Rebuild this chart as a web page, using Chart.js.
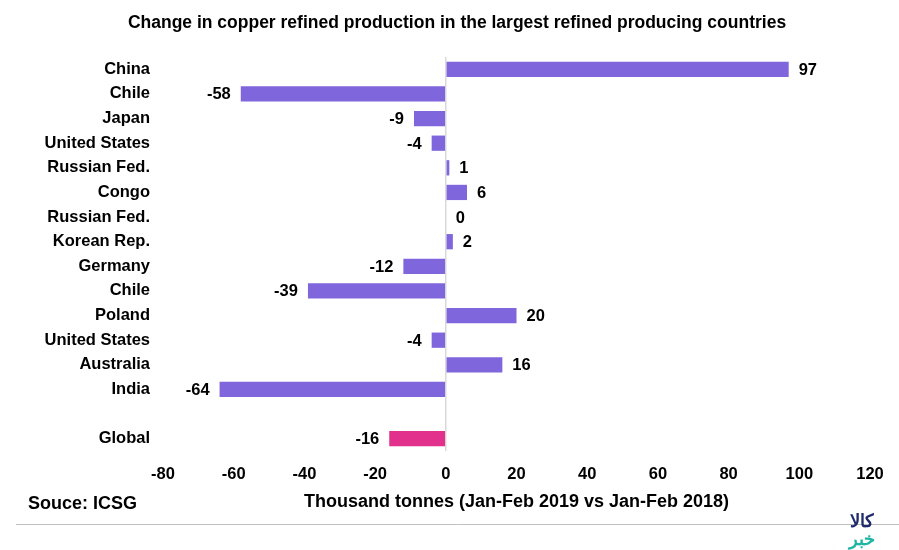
<!DOCTYPE html>
<html>
<head>
<meta charset="utf-8">
<script src="https://cdn.jsdelivr.net/npm/chart.js@4"></script>
<style>
  body { margin: 0; background: #fff; }
  #wrap { width: 899px; height: 550px; }
</style>
</head>
<body>
<div id="wrap"><canvas id="myChart"></canvas></div>
<script>
// categories (the empty one is the gap above Global)
let countries = ['China', 'Chile', 'Japan', 'United States', 'Russian Fed.', 'Congo', 'Russian Fed.',
    'Korean Rep.', 'Germany', 'Chile', 'Poland', 'United States', 'Australia', 'India', '', 'Global'];

// change in thousand tonnes
let changes = [97, -58, -9, -4, 1, 6, 0, 2, -12, -39, 20, -4, 16, -64, null, -16];

// x axis ticks
let xMin = -80;
let xMax = 120;
let xStep = 20;

let barColor = '#8066dc';
let globalColor = '#e2308d';

const fontFamily = '"Liberation Sans", Arial, sans-serif';

// draws value labels, chart title, source note, bottom rule
const extras = {
    id: 'extras',
    afterDatasetsDraw(chart) {
        const ctx = chart.ctx;
        const meta = chart.getDatasetMeta(0);
        ctx.save();
        ctx.fillStyle = '#000';
        ctx.font = 'bold 16.5px ' + fontFamily;
        ctx.textBaseline = 'middle';
        meta.data.forEach((bar, i) => {
            let v = changes[i];
            if (v === null) return;
            if (v < 0) {
                ctx.textAlign = 'right';
                ctx.fillText(String(v), bar.x - 10, bar.y + 1);
            } else {
                ctx.textAlign = 'left';
                ctx.fillText(String(v), bar.x + 10, bar.y + 1);
            }
        });

        // title
        ctx.textAlign = 'center';
        ctx.font = 'bold 17.5px ' + fontFamily;
        ctx.fillText('Change in copper refined production in the largest refined producing countries', 457, 23);

        // source
        ctx.textAlign = 'left';
        ctx.font = 'bold 18px ' + fontFamily;
        ctx.fillText('Souce: ICSG', 28, 504);

        // bottom rule
        ctx.strokeStyle = '#bfbfbf';
        ctx.lineWidth = 1;
        ctx.beginPath();
        ctx.moveTo(16, 524.5);
        ctx.lineTo(899, 524.5);
        ctx.stroke();

        // watermark
        ctx.textAlign = 'center';
        ctx.font = 'bold 18px "Noto Sans", sans-serif';
        ctx.fillStyle = '#1d2a6b';
        ctx.fillText('کالا', 862, 522);
        ctx.fillStyle = '#1fb5a5';
        ctx.fillText('خبر', 862, 540);
        ctx.restore();
    }
};

const chart = new Chart(document.getElementById('myChart'), {
    type: 'bar',
    data: {
        labels: countries,
        datasets: [{
            data: changes,
            backgroundColor: countries.map(c => c === 'Global' ? globalColor : barColor),
            barPercentage: 0.62,
            categoryPercentage: 1
        }]
    },
    options: {
        indexAxis: 'y',
        responsive: true,
        maintainAspectRatio: false,
        animation: false,
        layout: {
            padding: { top: 57, right: 29, left: 0, bottom: 0 }
        },
        plugins: {
            legend: { display: false },
            tooltip: { enabled: false }
        },
        scales: {
            x: {
                min: xMin,
                max: xMax,
                afterFit(scale) { scale.height = 99; },
                ticks: {
                    stepSize: xStep,
                    color: '#000',
                    padding: 14,
                    font: { family: fontFamily, size: 16.5, weight: 'bold' }
                },
                grid: {
                    drawTicks: false,
                    lineWidth: 1.5,
                    color: ctx => ctx.tick && ctx.tick.value === 0 ? '#d9d9d9' : 'rgba(0,0,0,0)'
                },
                border: { display: false },
                title: {
                    display: true,
                    text: 'Thousand tonnes (Jan-Feb 2019 vs Jan-Feb 2018)',
                    color: '#000',
                    font: { family: fontFamily, size: 18, weight: 'bold' },
                    padding: { top: 0, bottom: 37 }
                }
            },
            y: {
                afterFit(scale) { scale.width = 163; },
                ticks: {
                    color: '#000',
                    padding: 5,
                    font: { family: fontFamily, size: 16.5, weight: 'bold' }
                },
                grid: { display: false },
                border: { display: false }
            }
        }
    },
    plugins: [extras]
});
</script>
</body>
</html>
